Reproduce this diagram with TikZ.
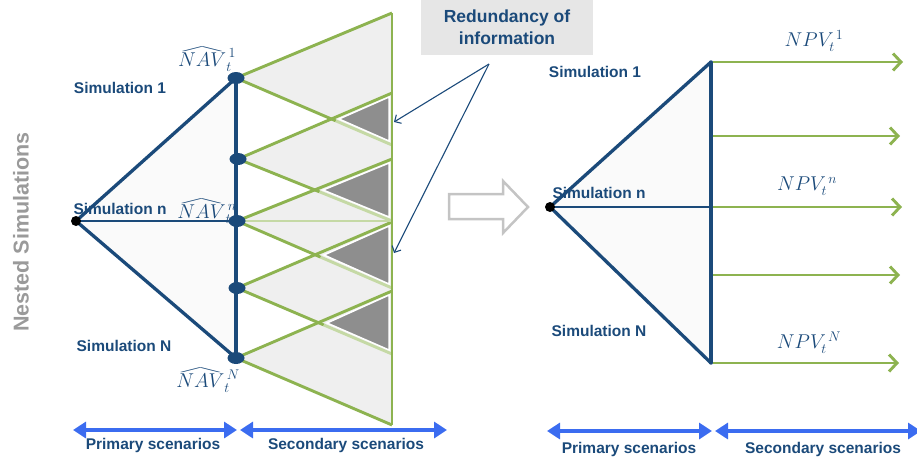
\documentclass[tikz,border=0pt]{standalone}
\usepackage{fix-cm}
\usepackage{graphicx}
\usepackage[no-math]{fontspec}
\newfontfamily\lsans{Liberation Sans}
\usetikzlibrary{arrows.meta,shapes.geometric,calc}
\definecolor{dblue}{HTML}{1B4A7A}
\definecolor{lgreen}{HTML}{8DB350}
\definecolor{pgreen}{HTML}{C5D9A5}
\definecolor{sblue}{HTML}{3B6CF0}
\definecolor{lgray}{HTML}{EFEFEF}
\definecolor{dgray}{HTML}{8E8E8E}
\definecolor{boxgray}{HTML}{E6E6E6}
\definecolor{txtgray}{HTML}{9A9A9A}
\definecolor{arrgray}{HTML}{C4C4C4}
\newcommand{\myhat}[1]{\setbox0\hbox{$#1$}\rlap{\smash{\raisebox{\dimexpr\ht0+1.2pt\relax}{\resizebox{\wd0}{4.5pt}{$\wedge$}}}}\box0}
\pgfdeclarelayer{bg}
\pgfsetlayers{bg,main}
\begin{document}
\begin{tikzpicture}[x=1pt,y=-1pt,
  bdot/.style={ellipse, fill=dblue, minimum width=17pt, minimum height=12pt, inner sep=0pt},
  kdot/.style={circle, fill=black, minimum size=10pt, inner sep=0pt},
  bline/.style={draw=dblue, line width=3.3pt, line cap=round},
  bthin/.style={draw=dblue, line width=1.4pt},
  gline/.style={draw=lgreen, line width=2.9pt},
  glight/.style={draw=pgreen, line width=2.9pt},
  simlabel/.style={text=dblue, font=\lsans\bfseries\fontsize{15.5}{18}\selectfont, inner sep=0pt},
  mlabel/.style={text=dblue, font=\fontsize{20}{24}\selectfont, inner sep=0pt},
  scenarrow/.style={draw=sblue, line width=4pt, {Triangle[length=13pt,width=16pt]}-{Triangle[length=13pt,width=16pt]}},
  garrow/.style={gline, -{Straight Barb[length=8pt,width=17pt]}},
  callout/.style={draw=dblue, line width=1.1pt, -{Straight Barb[length=5pt,width=10pt]}}
]
\useasboundingbox (0,0) rectangle (917,464);

% ---------- left diagram: nodes ----------
\node[kdot] (L0) at (76,221) {};
\node[bdot] (d1) at (236,78) {};
\node[bdot] (d2) at (238,159) {};
\node[bdot] (d3) at (237,221) {};
\node[bdot] (d4) at (237,288) {};
\node[bdot] (d5) at (236,358) {};
\coordinate (t1) at (392,13);  \coordinate (b1) at (392,145);
\coordinate (t2) at (392,93);  \coordinate (b2) at (392,221);
\coordinate (t3) at (392,159); \coordinate (b3) at (392,288);
\coordinate (t4) at (392,222); \coordinate (b4) at (392,354);
\coordinate (t5) at (392,291); \coordinate (b5) at (392,425);

\begin{pgfonlayer}{bg}
  \fill[gray!4] (L0.center) -- (d1.center) -- (d5.center) -- cycle;
  \foreach \k in {1,...,5} { \fill[lgray] (d\k.center) -- (t\k) -- (b\k) -- cycle; }
  % overlaps
  \filldraw[fill=dgray, draw=white, line width=1.5pt] (339,119) -- (389,97) -- (389,141) -- cycle;
  \filldraw[fill=dgray, draw=white, line width=1.5pt] (323,190) -- (389,163) -- (389,217) -- cycle;
  \filldraw[fill=dgray, draw=white, line width=1.5pt] (324,255) -- (389,226) -- (389,284) -- cycle;
  \filldraw[fill=dgray, draw=white, line width=1.5pt] (327,323) -- (389,295) -- (389,350) -- cycle;
  % green edges
  \foreach \k in {1,...,5} { \draw[gline] (d\k.center) -- (t\k); }
  \draw[gline] (d1.center) -- ($(d1.center)!0.64!(b1)$);
  \draw[glight] ($(d1.center)!0.64!(b1)$) -- (b1);
  \draw[gline] (d2.center) -- ($(d2.center)!0.53!(b2)$);
  \draw[glight] ($(d2.center)!0.53!(b2)$) -- (b2);
  \draw[gline] (d3.center) -- ($(d3.center)!0.54!(b3)$);
  \draw[glight] ($(d3.center)!0.54!(b3)$) -- (b3);
  \draw[gline] (d4.center) -- ($(d4.center)!0.56!(b4)$);
  \draw[glight] ($(d4.center)!0.56!(b4)$) -- (b4);
  \draw[gline] (d5.center) -- (b5);
  \draw[pgreen, line width=1.5pt] (d3.center) -- (b2);
  \draw[gline] (t1) -- (b5);
  % blue tree
  \draw[bline] (L0.center) -- (d1.center);
  \draw[bline] (L0.center) -- (d5.center);
  \draw[bline] (d1.center) -- (d5.center);
  \draw[bthin] (L0.center) -- (d3.center);
\end{pgfonlayer}

% labels left
\node[simlabel] (s1) at (120,88) {Simulation 1};
\node[simlabel] (sn) at (120,209) {Simulation n};
\node[simlabel] (sN) at (124,346) {Simulation N};
\node[mlabel] (nav1) at (207,60) {${\myhat{NAV}}_t^{\,1}$};
\node[mlabel] (navn) at (207,214) {${\myhat{NAV}}_t^{\,n}$};
\node[mlabel] (navN) at (208,381) {${\myhat{NAV}}_t^{\,N}$};
\node[text=txtgray, font=\lsans\bfseries\fontsize{21.5}{24}\selectfont, rotate=90, inner sep=0pt] (nested) at (21,232) {Nested Simulations};

% redundancy box and callouts
\node[fill=boxgray, minimum width=172pt, minimum height=56pt, inner sep=0pt, align=center,
      text=dblue, font=\lsans\bfseries\fontsize{17.5}{22}\selectfont] (red) at (507,27) {Redundancy of\\information};
\coordinate (cf) at (489,64);
\coordinate (c1) at (394,122);
\coordinate (c2) at (394,253);
\draw[callout] (cf) -- (c1);
\draw[callout] (cf) -- (c2);

% hollow arrow
\draw[arrgray, fill=white, line width=2.5pt, line join=miter] (449,194) -- (503,194) -- (503,181) -- (528,207) -- (503,233) -- (503,219) -- (449,219) -- cycle;

% ---------- right diagram ----------
\node[kdot] (R0) at (550,207) {};
\coordinate (r1) at (711,62);
\coordinate (rm) at (711,207);
\coordinate (rN) at (711,363);
\coordinate (r2) at (711,136);
\coordinate (r4) at (711,275);
\coordinate (e1) at (903,62);
\coordinate (e2) at (900,136);
\coordinate (e3) at (902,207);
\coordinate (e4) at (900,275);
\coordinate (e5) at (899,363);
\begin{pgfonlayer}{bg}
  \fill[gray!4] (R0.center) -- (r1) -- (rN) -- cycle;
  \draw[bline] (R0.center) -- (r1);
  \draw[bline] (R0.center) -- (rN);
  \draw[bline] (r1) -- (rN);
  \draw[bthin] (R0.center) -- (rm);
\end{pgfonlayer}
\draw[garrow] ([xshift=2pt]r1) -- (e1);
\draw[garrow] ([xshift=2pt]r2) -- (e2);
\draw[garrow] ([xshift=2pt]rm) -- (e3);
\draw[garrow] ([xshift=2pt]r4) -- (e4);
\draw[garrow] ([xshift=2pt]rN) -- (e5);

\node[simlabel] (rs1) at (595,72) {Simulation 1};
\node[simlabel] (rsn) at (599,193) {Simulation n};
\node[simlabel] (rsN) at (599,331) {Simulation N};
\node[mlabel] (npv1) at (814,41) {$NPV_t^{\,1}$};
\node[mlabel] (npvn) at (807,186) {$NPV_t^{\,n}$};
\node[mlabel] (npvN) at (809,343) {$NPV_t^{\,N}$};

% ---------- scenario arrows ----------
\coordinate (pa) at (73,430);  \coordinate (pb) at (237,430);
\coordinate (qa) at (240,430); \coordinate (qb) at (447,430);
\coordinate (ra) at (547,431); \coordinate (rb) at (712,431);
\coordinate (sa) at (715,431); \coordinate (sb) at (921,431);
\draw[scenarrow] (pa) -- (pb);
\draw[scenarrow] (qa) -- (qb);
\draw[scenarrow] (ra) -- (rb);
\draw[scenarrow] (sa) -- (sb);
\node[simlabel] (ps1) at (153,445) {Primary scenarios};
\node[simlabel] (ss1) at (346,445) {Secondary scenarios};
\node[simlabel] (ps2) at (629,449) {Primary scenarios};
\node[simlabel] (ss2) at (823,449) {Secondary scenarios};
\end{tikzpicture}
\end{document}
